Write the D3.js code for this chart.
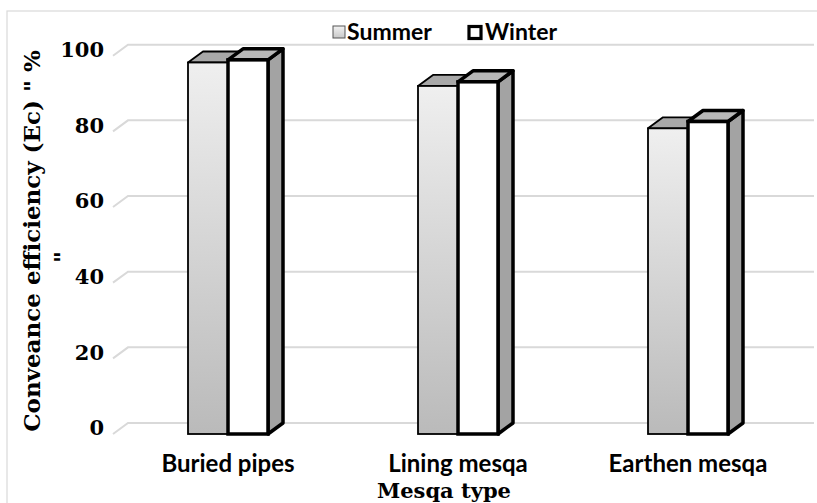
<!DOCTYPE html>
<html><head><meta charset="utf-8">
<script src="https://cdn.jsdelivr.net/npm/d3@7"></script>
<style>html,body{margin:0;padding:0;background:#fff}svg{display:block}</style>
</head><body><svg id="c" width="817" height="503"></svg>
<script>
const categories = ["Buried pipes", "Lining mesqa", "Earthen mesqa"];
const seriesNames = ["Summer", "Winter"];
const summer = [98.2, 92.0, 80.8];
const winter = [98.9, 93.1, 82.6];
const yTicks = [0, 20, 40, 60, 80, 100];
const yTitle = "Conveance efficiency (Ec) \" %";
const yTitle2 = "\"";
const xTitle = "Mesqa type";

const svg = d3.select("#c");
const dx = 15, dy = 11;
const x = d3.scaleBand().domain(categories).range([113, 803]);
const y = d3.scaleLinear().domain([0, 100]).range([423, 44.7]);
const barW = 40;
const sans = "Lato, 'Open Sans', sans-serif";
const serif = "'DejaVu Serif', 'Liberation Serif', serif";

const defs = svg.append("defs");
const g1 = defs.append("linearGradient").attr("id","gS").attr("x1",0).attr("y1",0).attr("x2",0).attr("y2",1);
g1.append("stop").attr("offset","0%").attr("stop-color","#efefef");
g1.append("stop").attr("offset","100%").attr("stop-color","#bababa");
const g2 = defs.append("linearGradient").attr("id","gL").attr("x1",0).attr("y1",0).attr("x2",0).attr("y2",1);
g2.append("stop").attr("offset","0%").attr("stop-color","#f2f2f2");
g2.append("stop").attr("offset","100%").attr("stop-color","#c8c8c8");

// outer border
svg.append("rect").attr("x",7).attr("y",11).attr("width",900).attr("height",600)
  .attr("fill","none").attr("stroke","#d9d9d9").attr("stroke-width",1.2);

// gridlines
const grid = svg.append("g");
yTicks.forEach(t => {
  const yy = y(t);
  grid.append("path")
    .attr("d", `M${113},${yy+dy} L${113+dx},${yy} L${814},${yy}`)
    .attr("fill","none").attr("stroke","#d9d9d9").attr("stroke-width",2);
});

// tick labels
svg.append("g").selectAll("text").data(yTicks).join("text")
  .attr("x", 104).attr("y", d => y(d) + 5).attr("dy","0.35em")
  .attr("text-anchor","end").attr("font-family",serif).attr("font-weight","bold")
  .attr("font-size",21).attr("fill","#000").text(d => d);

function bar(g, x0, v, front, top, side, sw) {
  const x1 = x0 + barW, yt = y(v) + dy, yb = y(0) + dy;
  g.append("path").attr("d", `M${x1},${yt} L${x1+dx},${yt-dy} L${x1+dx},${yb-dy} L${x1},${yb} Z`)
    .attr("fill", side).attr("stroke","#000").attr("stroke-width",sw).attr("stroke-linejoin","round");
  g.append("path").attr("d", `M${x0},${yt} L${x0+dx},${yt-dy} L${x1+dx},${yt-dy} L${x1},${yt} Z`)
    .attr("fill", top).attr("stroke","#000").attr("stroke-width",sw).attr("stroke-linejoin","round");
  g.append("rect").attr("x",x0).attr("y",yt).attr("width",barW).attr("height",yb-yt)
    .attr("fill", front).attr("stroke","#000").attr("stroke-width",sw);
}

const bars = svg.append("g");
categories.forEach((c, i) => {
  const cx = x(c) + x.bandwidth()/2;
  bar(bars, cx - barW, summer[i], "url(#gS)", "#a8a8a8", "#9a9a9a", 1.8);
  bar(bars, cx, winter[i], "#ffffff", "#b8b8b8", "#a3a3a3", 3.5);
});

// category labels
svg.append("g").selectAll("text").data(categories).join("text")
  .attr("x", d => x(d) + x.bandwidth()/2).attr("y", 472)
  .attr("text-anchor","middle").attr("font-family",sans).attr("font-weight","bold")
  .attr("font-size",24).attr("fill","#000").text(d => d);

// x title
svg.append("text").attr("x", 444).attr("y", 498).attr("text-anchor","middle")
  .attr("font-family",serif).attr("font-weight","bold").attr("font-size",21).text(xTitle);

// y title
svg.append("text").attr("transform","translate(40,241) rotate(-90)").attr("text-anchor","middle")
  .attr("font-family",serif).attr("font-weight","bold").attr("font-size",23).text(yTitle);
svg.append("text").attr("transform","translate(70,257) rotate(-90)").attr("text-anchor","middle")
  .attr("font-family",serif).attr("font-weight","bold").attr("font-size",23).text(yTitle2);

// legend
const lg = svg.append("g");
lg.append("rect").attr("x",333).attr("y",26).attr("width",12).attr("height",12)
  .attr("fill","url(#gL)").attr("stroke","#555").attr("stroke-width",1);
lg.append("text").attr("x",347).attr("y",40).attr("font-family",sans).attr("font-weight","bold")
  .attr("font-size",23).text(seriesNames[0]);
lg.append("rect").attr("x",469).attr("y",26.5).attr("width",12).attr("height",12)
  .attr("fill","#fff").attr("stroke","#000").attr("stroke-width",3.2);
lg.append("text").attr("x",485).attr("y",40).attr("font-family",sans).attr("font-weight","bold")
  .attr("font-size",23).text(seriesNames[1]);
</script></body></html>
